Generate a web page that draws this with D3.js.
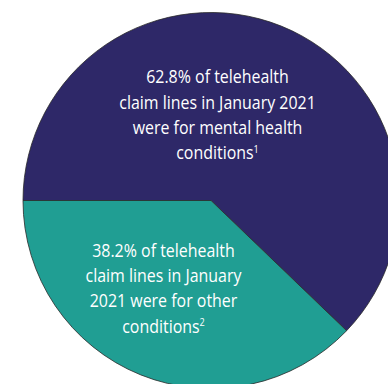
<!DOCTYPE html>
<html>
<head>
<meta charset="utf-8">
<script src="https://cdn.jsdelivr.net/npm/d3@7"></script>
<style>
  html, body { margin: 0; padding: 0; background: #fff; }
  svg { display: block; }
</style>
</head>
<body>
<svg id="chart" width="388" height="384"></svg>
<script>
const categories = ["Mental health conditions", "Other conditions"];
const values = [62.8, 38.2];
const colors = ["#2e2868", "#209e93"];
const labelLines = [
  ["62.8% of telehealth", "claim lines  in January 2021", "were for mental health", "conditions|1"],
  ["38.2% of telehealth", "claim lines in January", "2021 were for other", "conditions|2"]
];

const svg = d3.select("#chart");
const cx = 211, cy = 200.5, r = 188;
const g = svg.append("g").attr("transform", `translate(${cx},${cy})`);

const data = categories.map((c, i) => ({ c, v: values[i], i }));
const pie = d3.pie().value(d => d.v).sort(null).startAngle(-Math.PI / 2).endAngle(1.5 * Math.PI);
const arc = d3.arc().innerRadius(0).outerRadius(r);
const arcs = pie(data);

g.selectAll("path").data(arcs).join("path")
  .attr("d", arc)
  .attr("fill", d => colors[d.data.i])
  .attr("stroke", "#2a2a2a")
  .attr("stroke-width", 0.8);

// label anchor: centre x and first baseline (relative to pie centre)
const labelPos = [[217.5 - cx, 83.3 - cy], [163.5 - cx, 256.7 - cy]];
const lineH = 25.3;
const font = "'Open Sans', 'Noto Sans', sans-serif";
const targetFirstLineWidth = 142.5;

labelLines.forEach((lines, k) => {
  const lg = g.append("g");
  const t = lg.append("text")
    .attr("text-anchor", "middle")
    .attr("fill", "#ffffff")
    .style("font-family", font)
    .style("font-size", "18.3px");
  lines.forEach((ln, j) => {
    const parts = ln.split("|");
    t.append("tspan")
      .attr("x", 0)
      .attr("y", j * lineH)
      .text(parts[0]);
    if (parts[1]) {
      t.append("tspan")
        .attr("dy", -6.5)
        .style("font-size", "10.5px")
        .text(parts[1]);
    }
  });
  // condense horizontally to mimic the narrow typeface
  const first = t.select("tspan").node();
  const w = first.getComputedTextLength();
  const sx = targetFirstLineWidth / w;
  lg.attr("transform", `translate(${labelPos[k][0]},${labelPos[k][1]}) scale(${sx},1)`);
});
</script>
</body>
</html>
